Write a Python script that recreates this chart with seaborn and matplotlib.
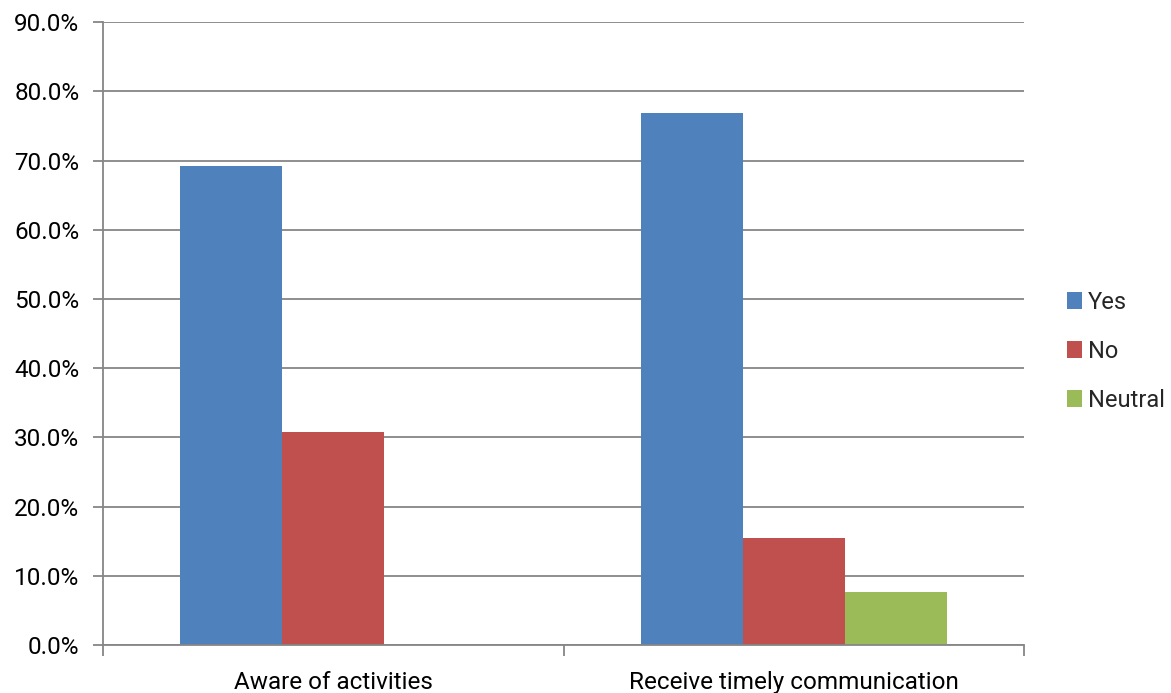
import matplotlib
matplotlib.use("Agg")
import matplotlib.pyplot as plt
import seaborn as sns
import pandas as pd
from matplotlib.patches import Patch
from matplotlib.ticker import PercentFormatter, FixedLocator

categories = ["Aware of activities", "Receive timely communication"]
responses = ["Yes", "No", "Neutral"]
yes_vals = [69.2, 76.9]
no_vals = [30.8, 15.4]
neutral_vals = [0.0, 7.7]
colors = ["#4F81BD", "#C0504D", "#9BBB59"]

rows = []
for i, cat in enumerate(categories):
    for resp, vals in zip(responses, [yes_vals, no_vals, neutral_vals]):
        rows.append({"Category": cat, "Response": resp, "Percent": vals[i]})
df = pd.DataFrame(rows)

sns.set_theme(style="white")
plt.rcParams["font.family"] = ["Roboto", "Liberation Sans", "DejaVu Sans"]

fig = plt.figure(figsize=(11.71, 6.93), dpi=100)
ax = fig.add_axes([0.088, 0.0693, 0.7865, 0.8987])

sns.barplot(data=df, x="Category", y="Percent", hue="Response",
            hue_order=responses, palette=colors, width=0.664,
            saturation=1, linewidth=0, ax=ax, legend=False, errorbar=None)

grid_color = "#868686"
ax.set_ylim(0, 90)
ax.set_xlim(-0.5, 1.5)
ax.yaxis.set_major_locator(FixedLocator(range(0, 91, 10)))
ax.yaxis.set_major_formatter(PercentFormatter(decimals=1))
ax.yaxis.grid(True, color=grid_color, linewidth=1.3)
ax.set_axisbelow(True)

for side in ["top", "right"]:
    ax.spines[side].set_visible(False)
for side in ["left", "bottom"]:
    ax.spines[side].set_color(grid_color)
    ax.spines[side].set_linewidth(1.3)

ax.set_xlabel("")
ax.set_ylabel("")
ax.tick_params(axis="y", which="major", left=True, length=7, width=1.3,
               color=grid_color, labelsize=17.5, pad=10, labelcolor="black")
ax.tick_params(axis="x", which="major", bottom=False, labelsize=17.5, pad=13,
               labelcolor="black")
ax.set_xticks([-0.5, 0.5, 1.5], minor=True)
ax.tick_params(axis="x", which="minor", bottom=True, length=8, width=1.3,
               color=grid_color)

handles = [Patch(facecolor=c, edgecolor="none", label=r) for c, r in zip(colors, responses)]
fig.legend(handles=handles, loc="center left", bbox_to_anchor=(0.911, 0.493),
           frameon=False, fontsize=17, handlelength=0.65, handleheight=0.7,
           handletextpad=0.25, labelspacing=1.1, borderpad=0, borderaxespad=0)

fig.savefig("out.png", dpi=100)
